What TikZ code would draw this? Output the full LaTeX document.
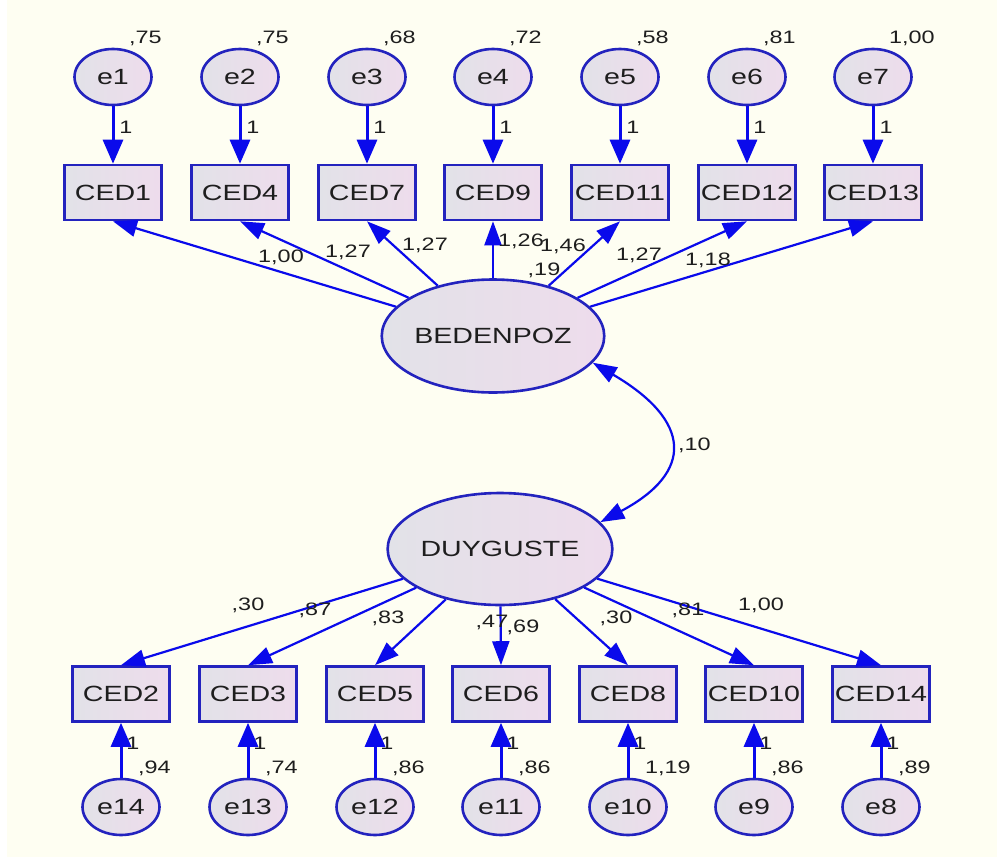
\documentclass[tikz,border=0pt]{standalone}
\usepackage{fontspec}
\setmainfont{Liberation Sans}[FakeStretch=1.3]
\usetikzlibrary{positioning, arrows.meta, shapes.geometric}
\definecolor{amosblue}{RGB}{35,35,190}
\definecolor{arrowblue}{RGB}{10,10,235}
\definecolor{fillgray}{RGB}{226,226,232}
\definecolor{fillpink}{RGB}{238,220,236}
\definecolor{bgcream}{RGB}{254,254,242}
\definecolor{textgray}{RGB}{30,30,30}

\begin{document}
\begin{tikzpicture}[
          x=1pt, y=-1pt,
          font=\fontsize{22pt}{24pt}\selectfont,
          text=textgray,
          err_ell/.style={ellipse, draw=amosblue, line width=2.6pt, left color=fillgray, right color=fillpink, minimum width=77pt, minimum height=56pt, inner sep=0pt},
          obs_box/.style={rectangle, draw=amosblue, line width=2.6pt, left color=fillgray, right color=fillpink, minimum width=97pt, minimum height=55pt, inner sep=0pt},
          lat_ell/.style={err_ell, minimum width=195pt, minimum height=113pt},
          coef/.style={font=\fontsize{18pt}{20pt}\selectfont, inner sep=0pt},
          err_arrow/.style={-{Triangle[length=24pt, width=20pt]}, draw=arrowblue, line width=3pt},
          load_arrow/.style={-{Triangle[length=24pt, width=17pt]}, draw=arrowblue, line width=2.2pt},
          cov_arrow/.style={{Triangle[length=24pt, width=17pt]}-{Triangle[length=24pt, width=17pt]}, draw=arrowblue, line width=2.2pt}
      ]
          % Latar
          \fill[white] (0,0) rectangle (997,857);
          \fill[bgcream] (7,0) rectangle (997,857);
          \useasboundingbox (0,0) rectangle (997,857);

          % Faktor laten
          \node[lat_ell] (bed) at (493,336) {BEDENPOZ};
          \node[lat_ell, minimum width=194pt, minimum height=112pt] (duy) at (500,549) {DUYGUSTE};

          % Baris atas: hata dan gozlenen degiskenler
          \node[err_ell] (e1) at (113,77) {e1};
          \node[err_ell] (e2) at (240,77) {e2};
          \node[err_ell] (e3) at (367,77) {e3};
          \node[err_ell] (e4) at (493,77) {e4};
          \node[err_ell] (e5) at (620,77) {e5};
          \node[err_ell] (e6) at (747,77) {e6};
          \node[err_ell] (e7) at (873,77) {e7};

          \node[obs_box] (ced1) at (113,192.5) {CED1};
          \node[obs_box] (ced4) at (240,192.5) {CED4};
          \node[obs_box] (ced7) at (367,192.5) {CED7};
          \node[obs_box] (ced9) at (493,192.5) {CED9};
          \node[obs_box] (ced11) at (620,192.5) {CED11};
          \node[obs_box] (ced12) at (747,192.5) {CED12};
          \node[obs_box] (ced13) at (873,192.5) {CED13};

          \draw[err_arrow] (e1) -- (ced1);
          \draw[err_arrow] (e2) -- (ced4);
          \draw[err_arrow] (e3) -- (ced7);
          \draw[err_arrow] (e4) -- (ced9);
          \draw[err_arrow] (e5) -- (ced11);
          \draw[err_arrow] (e6) -- (ced12);
          \draw[err_arrow] (e7) -- (ced13);

          \node[coef] (w1) at (126,127) {1};
          \node[coef] (w2) at (253,127) {1};
          \node[coef] (w3) at (380,127) {1};
          \node[coef] (w4) at (506,127) {1};
          \node[coef] (w5) at (633,127) {1};
          \node[coef] (w6) at (760,127) {1};
          \node[coef] (w7) at (886,127) {1};

          \node[coef, anchor=west] (v1) at (129,38) {,75};
          \node[coef, anchor=west] (v2) at (256,38) {,75};
          \node[coef, anchor=west] (v3) at (383,38) {,68};
          \node[coef, anchor=west] (v4) at (509,38) {,72};
          \node[coef, anchor=west] (v5) at (636,38) {,58};
          \node[coef, anchor=west] (v6) at (763,38) {,81};
          \node[coef, anchor=west] (v7) at (889,38) {1,00};

          % Yukler BEDENPOZ
          \draw[load_arrow] (bed) -- (ced1.south);
          \draw[load_arrow] (bed) -- (ced4.south);
          \draw[load_arrow] (bed) -- (ced7.south);
          \draw[load_arrow] (bed) -- (ced9.south);
          \draw[load_arrow] (bed) -- (ced11.south);
          \draw[load_arrow] (bed) -- (ced12.south);
          \draw[load_arrow] (bed) -- (ced13.south);

          \node[coef] (l1) at (281,257) {1,00};
          \node[coef] (l4) at (348,252) {1,27};
          \node[coef] (l7) at (425,245) {1,27};
          \node[coef] (l9) at (521,241) {1,26};
          \node[coef] (l11) at (563,246) {1,46};
          \node[coef] (l12) at (639,255) {1,27};
          \node[coef] (l13) at (708,260) {1,18};
          \node[coef] (vbed) at (544,270) {,19};

          % Kovaryans
          \draw[cov_arrow] (bed.-15) .. controls +(99,58) and +(94,-50) .. node[coef, right=8pt] (cv) {,10} (duy.15);

          % Baris bawah: gozlenen degiskenler dan hata
          \node[obs_box] (ced2) at (121,694) {CED2};
          \node[obs_box] (ced3) at (248,694) {CED3};
          \node[obs_box] (ced5) at (375,694) {CED5};
          \node[obs_box] (ced6) at (501,694) {CED6};
          \node[obs_box] (ced8) at (628,694) {CED8};
          \node[obs_box] (ced10) at (754,694) {CED10};
          \node[obs_box] (ced14) at (881,694) {CED14};

          \node[err_ell] (e14) at (121,807) {e14};
          \node[err_ell] (e13) at (248,807) {e13};
          \node[err_ell] (e12) at (375,807) {e12};
          \node[err_ell] (e11) at (501,807) {e11};
          \node[err_ell] (e10) at (628,807) {e10};
          \node[err_ell] (e9) at (754,807) {e9};
          \node[err_ell] (e8) at (881,807) {e8};

          \draw[err_arrow] (e14) -- (ced2);
          \draw[err_arrow] (e13) -- (ced3);
          \draw[err_arrow] (e12) -- (ced5);
          \draw[err_arrow] (e11) -- (ced6);
          \draw[err_arrow] (e10) -- (ced8);
          \draw[err_arrow] (e9) -- (ced10);
          \draw[err_arrow] (e8) -- (ced14);

          \node[coef] (w14) at (133,743) {1};
          \node[coef] (w13) at (260,743) {1};
          \node[coef] (w12) at (387,743) {1};
          \node[coef] (w11) at (513,743) {1};
          \node[coef] (w10) at (640,743) {1};
          \node[coef] (w9) at (766,743) {1};
          \node[coef] (w8) at (893,743) {1};

          \node[coef, anchor=west] (v14) at (138,768) {,94};
          \node[coef, anchor=west] (v13) at (265,768) {,74};
          \node[coef, anchor=west] (v12) at (392,768) {,86};
          \node[coef, anchor=west] (v11) at (518,768) {,86};
          \node[coef, anchor=west] (v10) at (645,768) {1,19};
          \node[coef, anchor=west] (v9) at (771,768) {,86};
          \node[coef, anchor=west] (v8) at (898,768) {,89};

          % Yukler DUYGUSTE
          \draw[load_arrow] (duy) -- (ced2.north);
          \draw[load_arrow] (duy) -- (ced3.north);
          \draw[load_arrow] (duy) -- (ced5.north);
          \draw[load_arrow] (duy) -- (ced6.north);
          \draw[load_arrow] (duy) -- (ced8.north);
          \draw[load_arrow] (duy) -- (ced10.north);
          \draw[load_arrow] (duy) -- (ced14.north);

          \node[coef] (l2) at (248,605) {,30};
          \node[coef] (l3) at (315,610) {,87};
          \node[coef] (l5) at (388,618) {,83};
          \node[coef] (vduy) at (492,622) {,47};
          \node[coef] (l6) at (523,627) {,69};
          \node[coef] (l8) at (616,618) {,30};
          \node[coef] (l10) at (688,610) {,81};
          \node[coef] (l14) at (761,605) {1,00};
      \end{tikzpicture}
\end{document}
